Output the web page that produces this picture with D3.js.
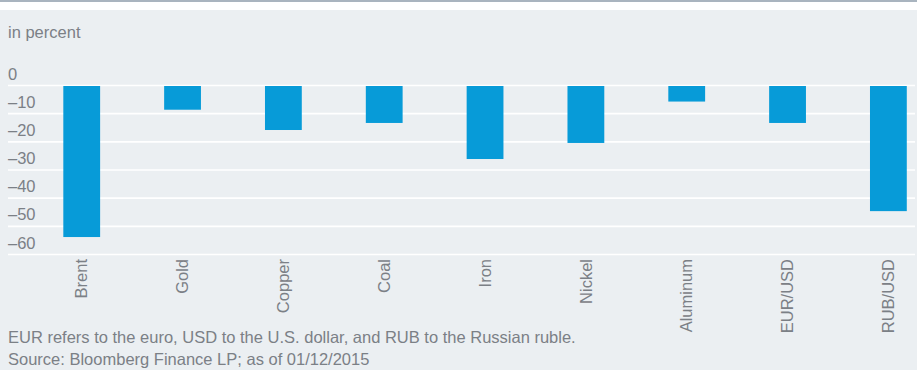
<!DOCTYPE html>
<html>
<head>
<meta charset="utf-8">
<script src="https://cdn.jsdelivr.net/npm/d3@7"></script>
<style>
  html, body { margin: 0; padding: 0; background: #ffffff; }
  svg { display: block; }
  text { font-family: "Liberation Sans", Arial, Helvetica, sans-serif; fill: #7b8086; }
</style>
</head>
<body>
<svg id="chart" width="917" height="370"></svg>
<script>
// Percentage change by asset
const categories = ["Brent", "Gold", "Copper", "Coal", "Iron", "Nickel", "Aluminum", "EUR/USD", "RUB/USD"];
const changes = [-53.8, -8.6, -15.8, -13.3, -26.1, -20.4, -5.7, -13.3, -44.6];
const yTicks = [0, -10, -20, -30, -40, -50, -60];
const unitLabel = "in percent";
const notes = [
  "EUR refers to the euro, USD to the U.S. dollar, and RUB to the Russian ruble.",
  "Source: Bloomberg Finance LP; as of 01/12/2015"
];

const W = 917, H = 370;
const svg = d3.select("#chart");

// Frame: thin rule on top, white strip, grey panel
svg.append("rect").attr("x", 0).attr("y", 0).attr("width", W).attr("height", 2).attr("fill", "#a9b4bf");
svg.append("rect").attr("x", 0).attr("y", 2).attr("width", W).attr("height", 8).attr("fill", "#ffffff");
svg.append("rect").attr("x", 0).attr("y", 10).attr("width", W).attr("height", H - 10).attr("fill", "#ebeff2");

const x = d3.scaleBand()
  .domain(categories)
  .range([31.3, 938.8])
  .paddingInner(0.635)
  .paddingOuter(0.3175);

const y = d3.scaleLinear()
  .domain([-60, 0])
  .range([254.5, 85.5]);

// Gridlines
svg.append("g").selectAll("line")
  .data(yTicks)
  .join("line")
  .attr("x1", 8).attr("x2", 915)
  .attr("y1", d => y(d)).attr("y2", d => y(d))
  .attr("stroke", "#ffffff")
  .attr("stroke-width", 1.6);

// Tick labels sit just above their gridline
const fmt = d => d < 0 ? "\u2013" + Math.abs(d) : String(d);
svg.append("g").selectAll("text")
  .data(yTicks)
  .join("text")
  .attr("x", 8)
  .attr("y", d => y(d) - 6)
  .attr("font-size", 16.5)
  .text(fmt);

// Bars
svg.append("g").selectAll("rect")
  .data(categories)
  .join("rect")
  .attr("x", d => x(d))
  .attr("width", x.bandwidth())
  .attr("y", (d, i) => y(Math.max(0, changes[i])) + 0.5)
  .attr("height", (d, i) => Math.abs(y(changes[i]) - y(0)) - 0.5)
  .attr("fill", "#079bd8");

// Category labels, rotated
svg.append("g").selectAll("text")
  .data(categories)
  .join("text")
  .attr("transform", d => `translate(${x(d) + x.bandwidth() / 2},259) rotate(-90)`)
  .attr("text-anchor", "end")
  .attr("dy", "0.35em")
  .attr("font-size", 16.5)
  .text(d => d);

// Unit label
svg.append("text").attr("x", 8).attr("y", 37.5).attr("font-size", 16.5).text(unitLabel);

// Footnotes
svg.append("g").selectAll("text")
  .data(notes)
  .join("text")
  .attr("x", 8)
  .attr("y", (d, i) => 343 + i * 22)
  .attr("font-size", 16.5)
  .text(d => d);
</script>
</body>
</html>
